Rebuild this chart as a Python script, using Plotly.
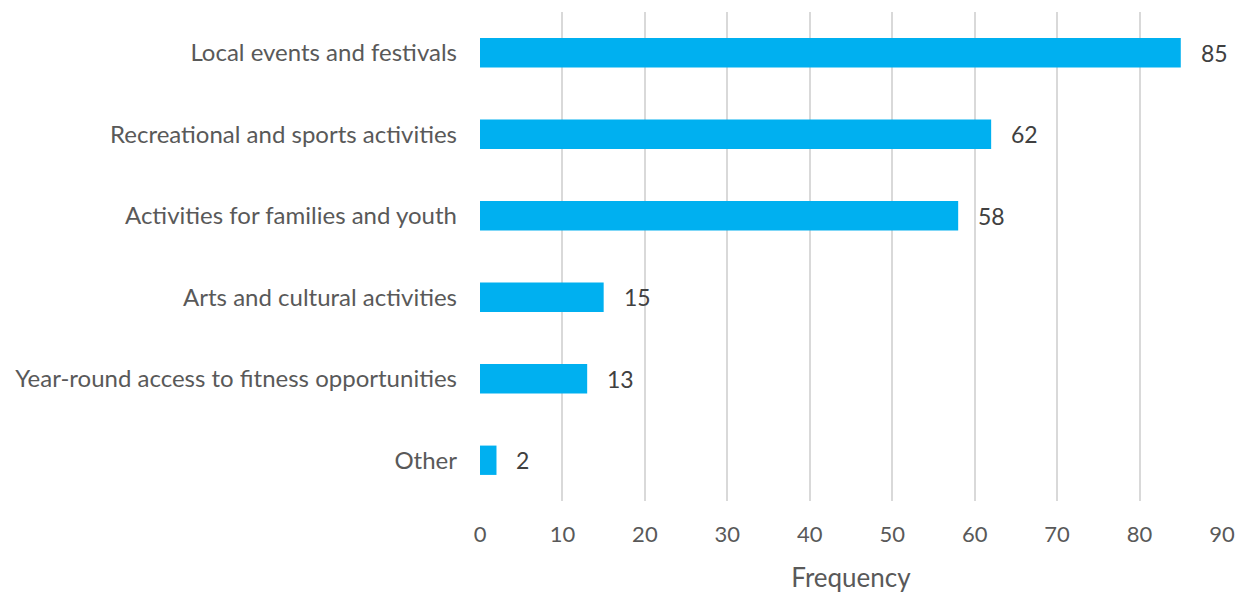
import plotly.graph_objects as go

categories = [
    "Local events and festivals",
    "Recreational and sports activities",
    "Activities for families and youth",
    "Arts and cultural activities",
    "Year-round access to fitness opportunities",
    "Other",
]
frequency = [85, 62, 58, 15, 13, 2]

BAR_COLOR = "#00B0F0"
FONT = "Lato, Open Sans, sans-serif"

fig = go.Figure(
    go.Bar(
        x=frequency,
        y=categories,
        orientation="h",
        marker=dict(color=BAR_COLOR, line=dict(width=0)),
        width=0.36,
        hoverinfo="x+y",
    )
)

# value labels to the right of each bar
for cat, val in zip(categories, frequency):
    fig.add_annotation(
        x=val, y=cat, text=str(val), showarrow=False,
        xanchor="left", xshift=18,
        font=dict(family=FONT, size=23, color="#404040"),
    )

fig.update_layout(
    width=1238, height=593,
    margin=dict(l=480, r=16, t=12, b=92, autoexpand=False),
    paper_bgcolor="white", plot_bgcolor="white",
    font=dict(family=FONT, size=21, color="#595959"),
    showlegend=False,
    xaxis=dict(
        range=[0, 90], dtick=10, tick0=0,
        showgrid=True, gridcolor="#D9D9D9", gridwidth=2,
        zeroline=False, showline=False, ticks="",
        automargin=False,
        ticklabelstandoff=18,
        tickfont=dict(size=22, color="#595959"),
        title=dict(text="Frequency", font=dict(size=26, color="#595959"), standoff=22),
    ),
    yaxis=dict(
        categoryorder="array", categoryarray=categories[::-1],
        autorange=False, range=[-0.5, 5.5],
        showgrid=False, zeroline=False, showline=False, ticks="",
        automargin=False,
        ticklabelstandoff=22,
        tickfont=dict(size=24, color="#595959"),
    ),
)

fig.write_html("out.html")
